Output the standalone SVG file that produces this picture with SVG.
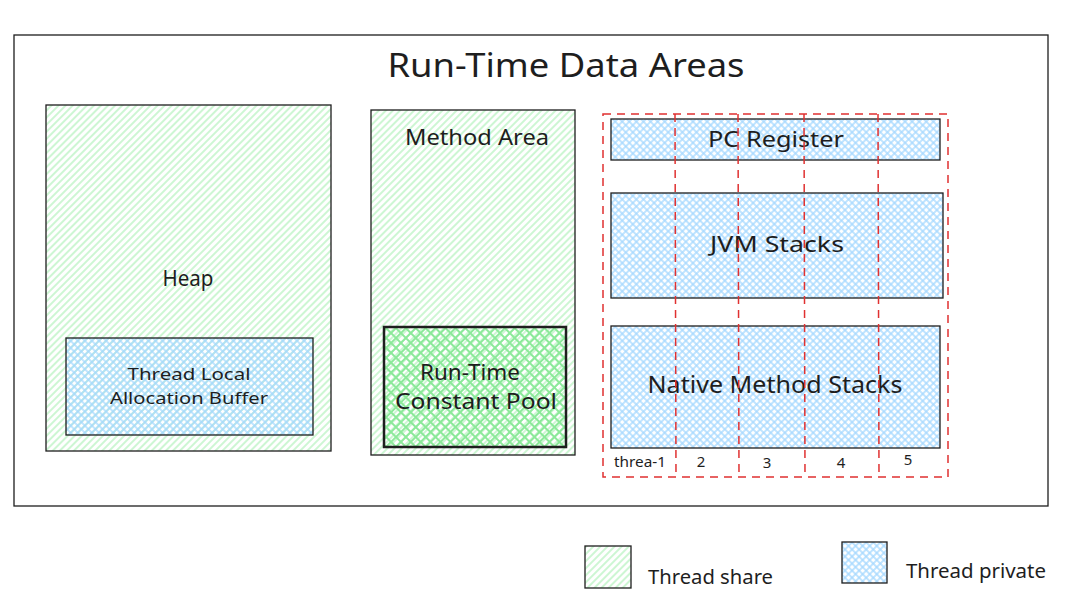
<svg xmlns="http://www.w3.org/2000/svg" width="1075" height="602" viewBox="0 0 1075 602">
<defs>
<pattern id="hatchG" width="5" height="5" patternUnits="userSpaceOnUse" patternTransform="rotate(45)">
<line x1="1" y1="0" x2="1" y2="5" stroke="#b2f2bb" stroke-width="1.3"/>
</pattern>
<pattern id="crossB" width="5" height="5" patternUnits="userSpaceOnUse" patternTransform="rotate(45)">
<line x1="1" y1="0" x2="1" y2="5" stroke="#a5d8ff" stroke-width="1.4"/>
<line x1="0" y1="1" x2="5" y2="1" stroke="#a5d8ff" stroke-width="1.4"/>
</pattern>
<pattern id="crossG" width="7" height="7" patternUnits="userSpaceOnUse" patternTransform="rotate(45)">
<line x1="1" y1="0" x2="1" y2="7" stroke="#8ce99a" stroke-width="2"/>
<line x1="0" y1="1" x2="7" y2="1" stroke="#8ce99a" stroke-width="2"/>
</pattern>
</defs>
<style>
.box{stroke:#1e1e1e;stroke-width:1.3}
.share{fill:url(#hatchG)}
.priv{fill:url(#crossB)}
.t{font-family:"Noto Sans","Liberation Sans",sans-serif;fill:#1e1e1e;text-anchor:middle}
.red{fill:none;stroke:#e03131;stroke-width:1.5;stroke-dasharray:8 6}
</style>
<rect width="1075" height="602" fill="#ffffff"/>
<g id="outer">
<rect x="14" y="35" width="1034" height="471" fill="none" class="box"/>
<text class="t" x="566" y="77" font-size="33" textLength="357" lengthAdjust="spacingAndGlyphs">Run-Time Data Areas</text>
</g>
<g id="heap">
<rect x="46" y="105" width="285" height="346" class="box share"/>
<text class="t" x="188" y="286" font-size="21" textLength="51" lengthAdjust="spacingAndGlyphs">Heap</text>
</g>
<g id="tlab">
<rect x="66" y="338" width="247" height="97" class="box priv"/>
<text class="t" x="189" y="380" font-size="17" textLength="123" lengthAdjust="spacingAndGlyphs">Thread Local</text>
<text class="t" x="189" y="404" font-size="17" textLength="158" lengthAdjust="spacingAndGlyphs">Allocation Buffer</text>
</g>
<g id="method-area">
<rect x="371" y="110" width="204" height="345" class="box share"/>
<text class="t" x="477" y="145" font-size="21" textLength="144" lengthAdjust="spacingAndGlyphs">Method Area</text>
</g>
<g id="rtcp">
<rect x="384" y="327" width="182" height="120" fill="url(#crossG)" stroke="#1e1e1e" stroke-width="2.5"/>
<text class="t" x="470" y="380" font-size="21" textLength="100" lengthAdjust="spacingAndGlyphs">Run-Time</text>
<text class="t" x="476" y="409" font-size="21" textLength="162" lengthAdjust="spacingAndGlyphs">Constant Pool</text>
</g>
<g id="pc-register">
<rect x="611" y="119" width="329" height="41" class="box priv"/>
<text class="t" x="776" y="147" font-size="22" textLength="136" lengthAdjust="spacingAndGlyphs">PC Register</text>
</g>
<g id="jvm-stacks">
<rect x="611" y="193" width="332" height="105" class="box priv"/>
<text class="t" x="777" y="252" font-size="22" textLength="134" lengthAdjust="spacingAndGlyphs">JVM Stacks</text>
</g>
<g id="native-stacks">
<rect x="611" y="326" width="329" height="122" class="box priv"/>
<text class="t" x="775" y="393" font-size="24" textLength="255" lengthAdjust="spacingAndGlyphs">Native Method Stacks</text>
</g>
<g id="threads">
<rect x="603" y="114" width="345" height="363" class="red"/>
<line x1="675" y1="114" x2="676" y2="477" class="red"/>
<line x1="738" y1="114" x2="739" y2="477" class="red"/>
<line x1="804" y1="114" x2="805" y2="477" class="red"/>
<line x1="878" y1="114" x2="879" y2="477" class="red"/>
<text class="t" x="640" y="467" font-size="15" textLength="52" lengthAdjust="spacingAndGlyphs">threa-1</text>
<text class="t" x="701" y="467" font-size="15">2</text>
<text class="t" x="767" y="468" font-size="15">3</text>
<text class="t" x="841" y="468" font-size="15">4</text>
<text class="t" x="908" y="465" font-size="15">5</text>
</g>
<g id="legend-share">
<rect x="585" y="546" width="46" height="42" class="box share"/>
<text x="648" y="584" font-size="19" class="t" style="text-anchor:start" textLength="125" lengthAdjust="spacingAndGlyphs">Thread share</text>
</g>
<g id="legend-private">
<rect x="842" y="542" width="45" height="41" class="box priv"/>
<text x="906" y="578" font-size="19" class="t" style="text-anchor:start" textLength="140" lengthAdjust="spacingAndGlyphs">Thread private</text>
</g>
<g id="connectors"></g>
</svg>
